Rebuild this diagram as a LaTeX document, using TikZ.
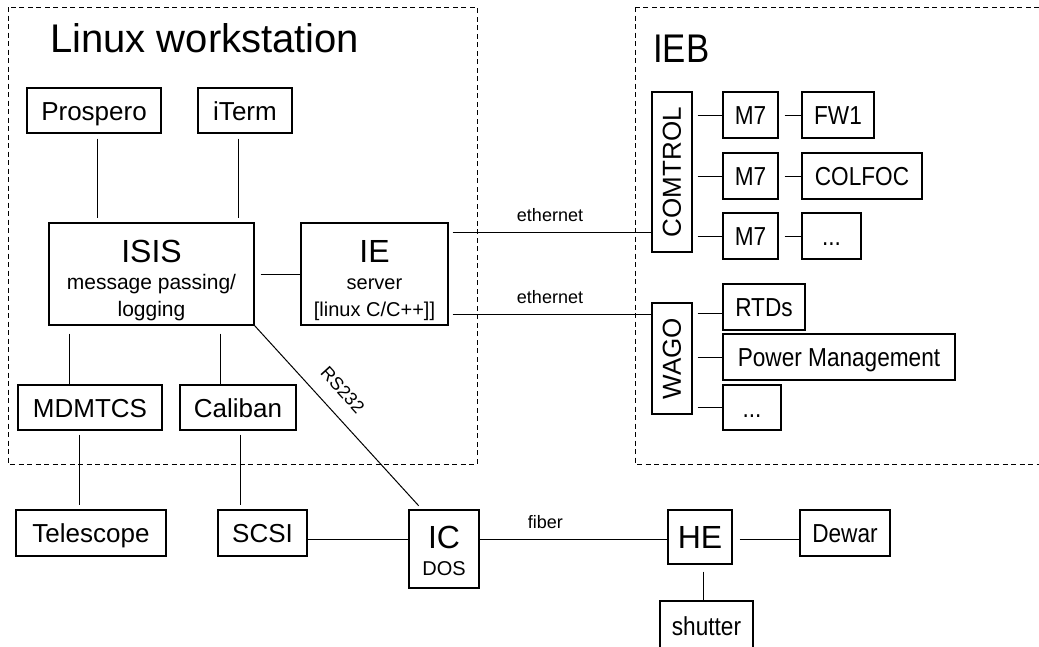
\documentclass[tikz,border=0pt]{standalone}
\usepackage{fontspec}
\usepackage{graphicx}
\setmainfont{Liberation Sans}
\newfontfamily\condensed[FakeStretch=0.87]{Liberation Sans}
\newcommand{\pts}[2]{\fontsize{#1}{#2}\selectfont}

\begin{document}
\begin{tikzpicture}[x=1pt, y=-1pt,
    block/.style={draw, line width=1.2pt, inner sep=0pt},
    unit/.style={block, font=\pts{26}{30}, text height=19pt, text depth=0pt},
    module/.style={block, font=\condensed\pts{26}{30}, text height=19pt, text depth=0pt},
    core/.style={block, align=center, font=\pts{20}{27}},
    wire/.style={line width=1pt, shorten <=5pt},
    tag/.style={font=\pts{18}{22}, inner sep=0pt, text depth=0pt}]
    \useasboundingbox (0,0) rectangle (1039,646);
    \clip (0,0) rectangle (1039,646);
    %Groups
    \draw[dash pattern=on 5pt off 3.5pt, line width=1pt] (8,7) rectangle (477,464);
    \draw[dash pattern=on 5pt off 3.5pt, line width=1pt] (635,7) rectangle (1060,464);
    \node[anchor=base west, inner sep=0pt, font=\pts{40}{48}] (linuxtitle) at (50,52) {Linux workstation};
    \node[anchor=base west, inner sep=0pt, font=\condensed\pts{40}{48}] (iebtitle) at (653,62) {IEB};
    %Workstation
    \node[unit, minimum width=134, minimum height=45] (prospero) at (94,110.5) {Prospero};
    \node[unit, minimum width=94, minimum height=45] (iterm) at (245,110.5) {iTerm};
    \node[core, minimum width=205, minimum height=102, font=\pts{21}{27}] (isis) at (151.5,274) {{\pts{32}{36}\rule{0pt}{35pt}ISIS}\\message passing/\\logging};
    \node[core, minimum width=147, minimum height=102] (ie) at (374.5,274) {{\pts{32}{36}\rule{0pt}{35pt}IE}\\server\\{}[linux C/C++]]};
    \node[unit, minimum width=144, minimum height=45] (mdmtcs) at (90,407.5) {MDMTCS};
    \node[unit, minimum width=116, minimum height=45] (caliban) at (238,407.5) {Caliban};
    %Outside
    \node[unit, minimum width=150, minimum height=46] (telescope) at (91,533) {Telescope};
    \node[unit, minimum width=89, minimum height=46] (scsi) at (262.5,533) {SCSI};
    \node[core, minimum width=70, minimum height=78] (ic) at (444,549) {{\pts{32}{36}\rule{0pt}{26pt}IC}\\DOS};
    \node[block, minimum width=64, minimum height=54, font=\pts{32}{36}, text height=23pt, text depth=0pt] (he) at (700,537) {HE};
    \node[module, minimum width=90, minimum height=46] (dewar) at (845,533) {Dewar};
    \node[module, minimum width=93, minimum height=50] (shutter) at (706.5,626) {shutter};
    %IEB
    \node[block, minimum width=40, minimum height=160, font=\pts{26}{30}] (comtrol) at (672,172) {\rotatebox{90}{COMTROL}};
    \node[module, minimum width=55, minimum height=46] (m7a) at (750.5,115) {M7};
    \node[module, minimum width=55, minimum height=46] (m7b) at (750.5,176) {M7};
    \node[module, minimum width=55, minimum height=46] (m7c) at (750.5,236) {M7};
    \node[module, minimum width=72, minimum height=46] (fw1) at (838,115) {FW1};
    \node[module, minimum width=120, minimum height=46] (colfoc) at (862,176) {COLFOC};
    \node[module, minimum width=59, minimum height=46] (dotsa) at (831.5,236) {...};
    \node[block, minimum width=40, minimum height=111, font=\pts{26}{30}] (wago) at (672,358.5) {\rotatebox{90}{WAGO}};
    \node[module, minimum width=82, minimum height=46] (rtds) at (764,307) {RTDs};
    \node[module, minimum width=232, minimum height=46] (power) at (839,357) {Power Management};
    \node[module, minimum width=58, minimum height=45] (dotsb) at (752,407.5) {...};
    %Links in the workstation
    \draw[wire, shorten >=4pt] ([xshift=3pt]prospero.south) -- ([xshift=3pt]prospero.south |- isis.north);
    \draw[wire, shorten >=4pt] ([xshift=-7pt]iterm.south) -- ([xshift=-7pt]iterm.south |- isis.north);
    \draw[wire, shorten <=6pt] (isis) -- (ie);
    \draw[wire, shorten <=8pt] ([xshift=-21pt]mdmtcs.north |- isis.south) -- ([xshift=-21pt]mdmtcs.north);
    \draw[wire, shorten <=8pt] ([xshift=-18pt]caliban.north |- isis.south) -- ([xshift=-18pt]caliban.north);
    %Links going out
    \draw[wire, shorten <=4pt, shorten >=4pt] ([xshift=-11pt]mdmtcs.south) -- ([xshift=-11pt]mdmtcs.south |- telescope.north);
    \draw[wire, shorten <=4pt, shorten >=4pt] ([xshift=2pt]caliban.south) -- ([xshift=2pt]caliban.south |- scsi.north);
    \draw[line width=1pt, shorten >=5pt] (isis.south east) -- ([xshift=-22pt]ic.north) node[tag, pos=0.43, sloped, above=15pt] {RS232};
    \draw[line width=1pt] ([yshift=-30pt]scsi.north east) -- ([yshift=-30pt]scsi.north east -| ic.west);
    \draw[line width=1pt] ([yshift=-30pt]ic.north east) -- ([yshift=-30pt]ic.north east -| he.west) node[tag, pos=0.35, above=10pt] {fiber};
    \draw[wire, shorten <=7pt] ([yshift=-30pt]he.north east) -- ([yshift=-30pt]he.north east -| dewar.west);
    \draw[wire, shorten <=7pt] ([xshift=3pt]he.south) -- ([xshift=3pt]he.south |- shutter.north);
    %Ethernet
    \draw[wire, shorten <=4pt] ([yshift=-10pt]ie.north east) -- ([yshift=-10pt]ie.north east -| comtrol.west) node[tag, midway, above=10pt] {ethernet};
    \draw[wire, shorten <=4pt] ([yshift=11pt]ie.south east) -- ([yshift=11pt]ie.south east -| wago.west) node[tag, midway, above=11pt] {ethernet};
    %Links in the IEB
    \foreach \m in {m7a, m7b, m7c}
        \draw[wire] (comtrol.east |- \m) -- (\m);
    \foreach \a/\b in {m7a/fw1, m7b/colfoc, m7c/dotsa}
        \draw[wire, shorten <=6pt] (\a) -- (\b);
    \draw[wire] ([yshift=-11pt]wago.north east) -- ([yshift=-11pt]wago.north east -| rtds.west);
    \draw[wire] (wago.east |- power) -- (power);
    \draw[wire] (wago.east |- dotsb) -- (dotsb);
\end{tikzpicture}
\end{document}
